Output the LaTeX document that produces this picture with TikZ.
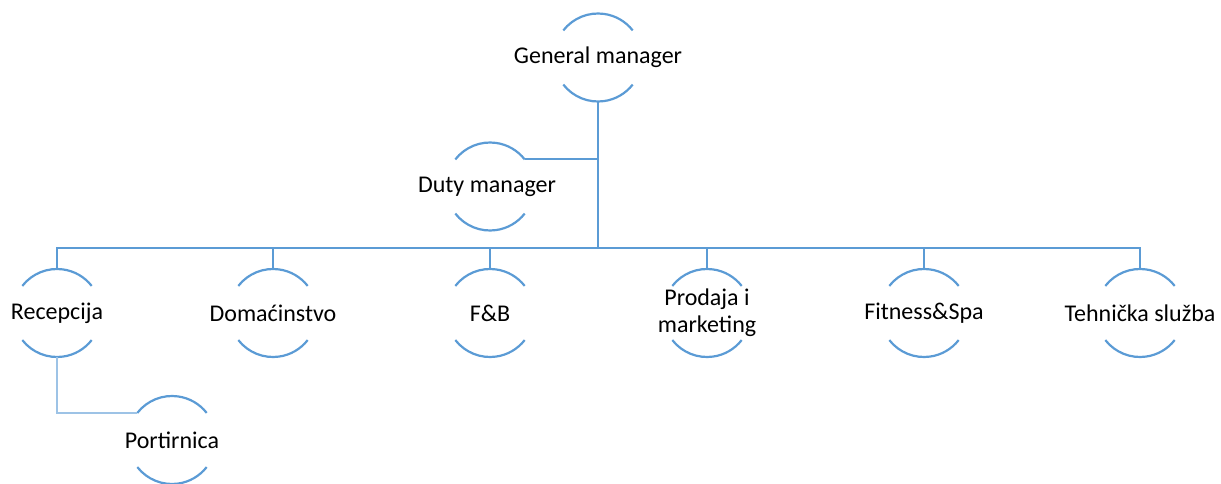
\documentclass[tikz,border=0pt]{standalone}
\usepackage{fontspec}
\setmainfont{Carlito}
\definecolor{acc}{HTML}{5B9BD5}
\definecolor{accl}{HTML}{9DC3E6}
\begin{document}
\begin{tikzpicture}[x=1pt,y=1pt,
  ring/.style={circle,minimum size=88pt,inner sep=0pt,outer sep=0pt,draw=none},
  lbl/.style={font=\fontsize{24}{27}\selectfont,align=center,inner sep=0pt},
  arcline/.style={draw=acc,line width=2.2pt},
  conn/.style={draw=acc,line width=2pt},
  connl/.style={draw=accl,line width=2pt}]
\useasboundingbox (0,0) rectangle (1221,-484);
% ring nodes
\node[ring] (gm)  at (598,-57.5) {};
\node[ring] (dm)  at (490,-186.5) {};
\node[ring] (rec) at (57,-313) {};
\node[ring] (dom) at (273,-313) {};
\node[ring] (fb)  at (490,-313) {};
\node[ring] (pro) at (707,-313) {};
\node[ring] (fit) at (924,-313) {};
\node[ring] (teh) at (1140,-313) {};
\node[ring] (port) at (172,-440) {};
% labels
\node[lbl] (gm-t)  at (gm.center) {General manager};
\node[lbl] (dm-t)  at ([xshift=-3pt]dm.center) {Duty manager};
\node[lbl] (rec-t) at (rec.center) {Recepcija};
\node[lbl] (dom-t) at (dom.center) {Domaćinstvo};
\node[lbl] (fb-t)  at (fb.center) {F\&B};
\node[lbl] (pro-t) at (pro.center) {Prodaja i\\marketing};
\node[lbl] (fit-t) at (fit.center) {Fitness\&Spa};
\node[lbl] (teh-t) at (teh.center) {Tehnička služba};
\node[lbl] (port-t) at (port.center) {Portirnica};
% arcs
\foreach \n in {gm,dm,rec,dom,fb,pro,fit,teh,port}{
  \draw[arcline] (\n.142) arc[start angle=142,end angle=38,radius=44pt];
  \draw[arcline] (\n.218) arc[start angle=218,end angle=322,radius=44pt];
}
% connectors
\coordinate (bus) at (598,-248);
\draw[conn] (gm.south) -- (bus);
\foreach \c in {rec,dom,fb,pro,fit,teh}{
  \draw[conn] (bus) -| (\c.north);
}
\draw[conn] (dm.38) -- (dm.38 -| gm.south);
\draw[connl] (rec.south) |- (port.142);
\end{tikzpicture}
\end{document}
